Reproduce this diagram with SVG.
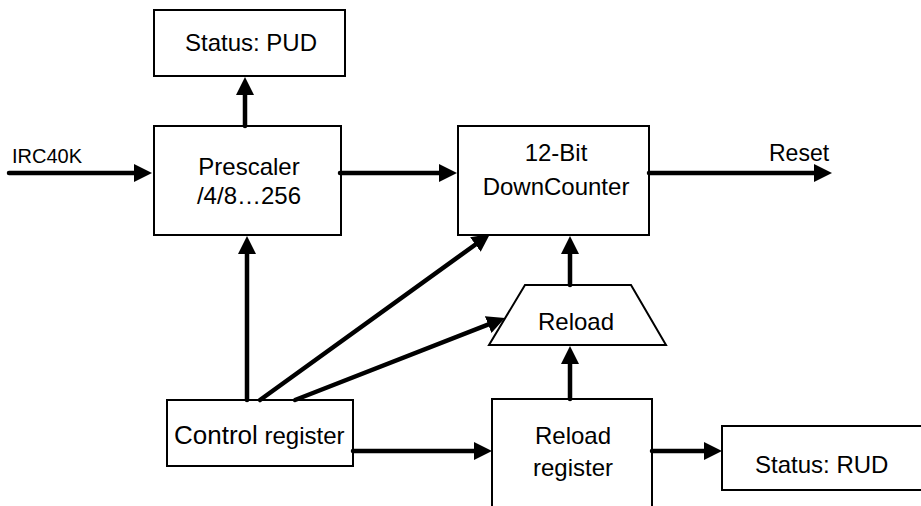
<svg xmlns="http://www.w3.org/2000/svg" width="921" height="506" viewBox="0 0 921 506">
<style>
.box{fill:#fff;stroke:#000;stroke-width:2}
.t{font-family:"Liberation Sans",Arial,sans-serif;font-size:24px;fill:#000}
.c{text-anchor:middle}
.con line{stroke:#000;stroke-width:4.5;stroke-linecap:round;marker-end:url(#ah)}
</style>
<defs>
<marker id="ah" viewBox="0 0 18 18" markerWidth="18" markerHeight="18" markerUnits="userSpaceOnUse" refX="10" refY="9" orient="auto">
<path d="M0,0 L18,9 L0,18 z" fill="#000"/>
</marker>
</defs>
<rect width="921" height="506" fill="#fff"/>
<g id="status-pud">
<rect class="box" x="154" y="10" width="191" height="66"/>
<text class="t c" x="251" y="51">Status: PUD</text>
</g>
<g id="prescaler">
<rect class="box" x="154" y="126" width="187" height="109"/>
<text class="t c" x="249" y="175">Prescaler</text>
<text class="t c" x="249" y="204">/4/8…256</text>
</g>
<g id="downcounter">
<rect class="box" x="458" y="126" width="191" height="109"/>
<text class="t c" x="556" y="161">12-Bit</text>
<text class="t c" x="556" y="195">DownCounter</text>
</g>
<g id="reload">
<polygon class="box" points="525,285 631,285 666,345 489,345"/>
<text class="t c" x="576" y="330">Reload</text>
</g>
<g id="control-register">
<rect class="box" x="167" y="400" width="186" height="66"/>
<text class="t" x="174" y="444"><tspan font-size="26">Control</tspan> register</text>
</g>
<g id="reload-register">
<rect class="box" x="492" y="399" width="160" height="130"/>
<text class="t c" x="573" y="444">Reload</text>
<text class="t c" x="573" y="476">register</text>
</g>
<g id="status-rud">
<rect class="box" x="722" y="426" width="230" height="64"/>
<text class="t" x="755" y="473">Status: RUD</text>
</g>
<g id="labels">
<text class="t" x="12" y="163" font-size="20" style="font-size:20px">IRC40K</text>
<text class="t" x="769" y="161" style="font-size:23px">Reset</text>
</g>
<g id="connectors" class="con">
<line x1="9" y1="173" x2="144" y2="173"/>
<line x1="245" y1="126" x2="245" y2="85"/>
<line x1="340" y1="173" x2="449" y2="173"/>
<line x1="649" y1="173" x2="824" y2="173"/>
<line x1="570" y1="285" x2="570" y2="244"/>
<line x1="247" y1="400" x2="247" y2="244"/>
<line x1="260" y1="400" x2="483.5" y2="238.7"/>
<line x1="295" y1="400" x2="497.5" y2="320.9"/>
<line x1="353" y1="451" x2="484" y2="451"/>
<line x1="570" y1="399" x2="570" y2="354"/>
<line x1="652" y1="451" x2="714" y2="451"/>
</g>
</svg>
